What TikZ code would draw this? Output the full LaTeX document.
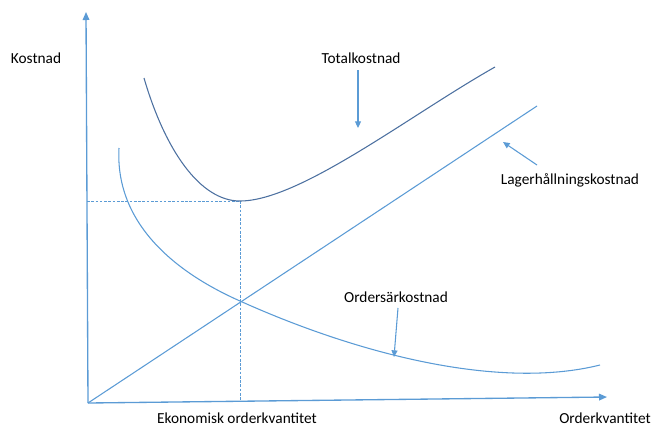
\documentclass[tikz,border=0pt]{standalone}
\usepackage{fontspec}
\setmainfont{Carlito}
\usetikzlibrary{arrows.meta}
\definecolor{axisblue}{RGB}{91,155,213}
\definecolor{totalblue}{RGB}{76,112,160}

\begin{document}
\begin{tikzpicture}[x=0.75pt,y=-0.75pt,
		axis/.style={axisblue, line width=1pt, -{Triangle[length=6pt,width=5pt]}},
		curve/.style={axisblue, line width=0.8pt},
		pointer/.style={axisblue, line width=0.8pt, -{Triangle[length=5pt,width=4.5pt]}},
		guide/.style={axisblue, line width=0.7pt, dash pattern=on 2pt off 1.2pt},
		lbl/.style={font=\fontsize{11.5}{13}\selectfont, inner sep=1pt}]
			\useasboundingbox (0,0) rectangle (653,426);
			
			% Draw the axes
			\coordinate (O) at (88,403);
			\coordinate (ytop) at (86,12);
			\coordinate (xend) at (607,397);
			\draw[axis] (O) -- (ytop);
			\draw[axis] (O) -- (xend);
			\node[lbl] (ylbl) at (36,58) {Kostnad};
			\node[lbl] (xlbl) at (605,418) {Orderkvantitet};
			
			% Minimum of the total cost and the guides to the axes
			\coordinate (min) at (240,201);
			\coordinate (miny) at (87,201);
			\coordinate (minx) at (240,401);
			\draw[guide] (miny) -- (min);
			\draw[guide] (min) -- (minx);
			\node[lbl] (eoqlbl) at (237,418) {Ekonomisk orderkvantitet};
			
			% Holding cost (straight line)
			\coordinate (lagerend) at (537,106);
			\draw[curve] (O) -- (lagerend);
			
			% Ordering cost
			\coordinate (cross) at (240,301);
			\draw[curve] (119,148) .. controls (115,220) and (170,270) .. (cross)
				.. controls (360,355) and (500,390) .. (600,365);
			
			% Total cost
			\draw[totalblue, line width=0.8pt] (144,78) .. controls (165,150) and (200,201) .. (min)
				.. controls (300,201) and (410,115) .. (495,67);
			
			% Labels with pointers
			\node[lbl] (totlbl) at (361,58) {Totalkostnad};
			\coordinate (tottip) at (358,128);
			\coordinate (tottail) at (358,70);
			\draw[pointer] (tottail) -- (tottip);
			
			\node[lbl] (lagerlbl) at (570,180) {Lagerhållningskostnad};
			\coordinate (lagertail) at (537,165);
			\coordinate (lagertip) at (503,142);
			\draw[pointer] (lagertail) -- (lagertip);
			
			\node[lbl] (orderlbl) at (396,297) {Ordersärkostnad};
			\coordinate (ordertip) at (394,357);
			\draw[pointer] ([xshift=1.5pt,yshift=-3pt]orderlbl.south) -- (ordertip);
		\end{tikzpicture}
\end{document}
